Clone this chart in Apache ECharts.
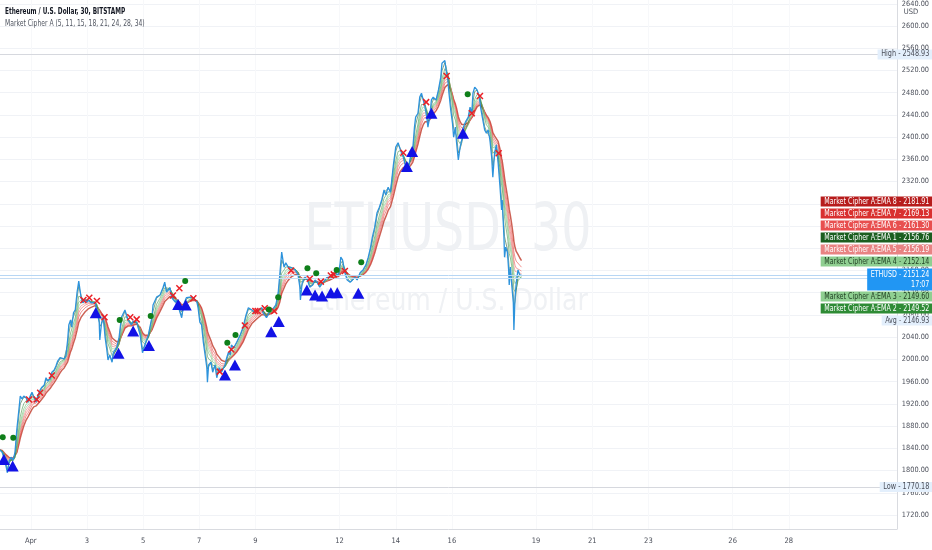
<!DOCTYPE html>
<html><head><meta charset="utf-8">
<script src="https://cdn.jsdelivr.net/npm/echarts@6/dist/echarts.min.js"></script>
<style>html,body{margin:0;padding:0;background:#fff}#c{width:932px;height:550px}</style>
</head><body><div id="c"></div>
<script>
// Hours since 2021-04-01 00:00 UTC of the sampled 30-minute closes
const barHours = [
-26.5, -24.5, -23, -21, -20, -18.5, -17, -15, -13.5, -12,
-10, -9, -7.5, -6, -4, -2.5, -0.5, 1, 2.5, 4.5,
6, 8, 9.5, 11.5, 13, 14.5, 16.5, 18, 20, 21.5,
23, 25, 26.5, 28.5, 30, 31.5, 32.5, 34, 35, 36.5,
38, 39.5, 41, 43, 44.5, 46.5, 48, 49.5, 51.5, 53,
55, 56.5, 58.5, 59, 60.5, 62, 63.5, 65, 66, 67.5,
69.5, 70.5, 73.5, 75.5, 77.5, 80.5, 83, 86, 87.5, 90.5,
93.5, 95.5, 97.5, 100.5, 103.5, 104.5, 107.5, 110.5, 113, 114.5,
116, 119, 120.5, 123.5, 124.5, 127.5, 129, 130.5, 133, 136,
139, 142, 143, 144.5, 146, 147.5, 149, 150.5, 151, 152,
154, 155.5, 157.5, 159, 161, 163, 166, 167.5, 169, 170.5,
171.5, 173.5, 176, 179, 181.5, 184, 186, 189, 191.5, 194.5,
197.5, 198.5, 201.5, 204.5, 207, 209.5, 211.5, 213, 214.5, 216.5,
218, 220, 223, 226, 228.5, 230, 230.5, 232, 234.5, 236.5,
238.5, 241, 243, 245, 247, 250, 253, 255.5, 257, 260,
263, 264.5, 265, 266.5, 268.5, 270.5, 273, 275, 277, 279,
281.5, 284, 286.5, 288.5, 290.5, 292, 294, 296, 298, 300,
302, 303.5, 305.5, 307.5, 310, 312, 314, 316, 318.5, 320.5,
322.5, 324.5, 326.5, 328, 329, 331, 332.5, 334, 335.5, 337,
338.5, 339.5, 341, 342.5, 344, 346.5, 348.5, 350.5, 351.5, 352.5,
354, 355, 356.5, 357.5, 359, 360.5, 361.5, 363, 364, 365.5,
367, 368.5, 369.5, 371.5, 374, 375.5, 377, 378, 379.5, 381.5,
383.5, 384.5, 386, 388, 389.5, 391, 392.5, 394, 395, 396.5,
398, 399.5, 401, 402.5, 403, 404.5, 405, 406, 407.5, 408.5,
409, 410, 411, 412.5, 413, 414, 415, 416.5, 418, 419.5
];
const closePrices = [
1837, 1833, 1823, 1806, 1796, 1817, 1824, 1819, 1833, 1873,
1913, 1934, 1929, 1934, 1931, 1923, 1934, 1941, 1938, 1923,
1934, 1945, 1950, 1954, 1967, 1961, 1965, 1977, 1981, 1988,
1997, 2003, 2004, 2001, 2006, 2035, 2062, 2071, 2058, 2084,
2089, 2120, 2141, 2111, 2102, 2107, 2103, 2107, 2102, 2105,
2102, 2089, 2066, 2035, 2066, 2076, 2040, 2017, 1999, 2008,
1995, 2012, 2022, 2040, 2076, 2089, 2071, 2062, 2069, 2067,
2044, 2012, 2026, 2044, 2075, 2098, 2112, 2116, 2129, 2139,
2121, 2129, 2111, 2103, 2107, 2085, 2075, 2098, 2111, 2112,
2111, 2103, 2093, 2067, 2062, 2031, 2008, 1985, 1959, 1990,
1995, 1977, 1990, 1967, 1985, 1977, 1990, 2003, 2013, 2008,
2026, 2021, 2031, 2044, 2058, 2080, 2093, 2089, 2085, 2089,
2093, 2084, 2075, 2087, 2091, 2098, 2120, 2156, 2193, 2166,
2174, 2166, 2165, 2161, 2152, 2130, 2107, 2138, 2148, 2143,
2130, 2134, 2143, 2138, 2130, 2139, 2147, 2148, 2152, 2156,
2152, 2174, 2184, 2179, 2156, 2143, 2139, 2143, 2148, 2143,
2156, 2161, 2170, 2184, 2202, 2220, 2238, 2264, 2274, 2287,
2305, 2296, 2310, 2301, 2350, 2382, 2390, 2377, 2364, 2346,
2341, 2364, 2377, 2418, 2436, 2443, 2472, 2479, 2467, 2454,
2436, 2418, 2436, 2467, 2472, 2467, 2485, 2508, 2533, 2530,
2538, 2521, 2503, 2479, 2449, 2425, 2400, 2418, 2390, 2359,
2382, 2395, 2416, 2427, 2436, 2454, 2443, 2479, 2490, 2485,
2472, 2454, 2436, 2413, 2407, 2413, 2395, 2364, 2328, 2372,
2386, 2354, 2314, 2269, 2287, 2220, 2184, 2202, 2193, 2161,
2134, 2166, 2138, 2102, 2053, 2112, 2138, 2161, 2152, 2151.24
];
// Market Cipher A EMA lengths (from the indicator title) and their last values (right-hand labels)
const emaLengths = [5, 11, 15, 18, 21, 24, 28, 34];
const emaLastValues = [2156.76, 2149.52, 2149.60, 2152.14, 2156.19, 2161.30, 2169.13, 2181.91];
// Signals: [hours since Apr 1, price]
const triangleSignals = [[-23,1820],[-15.5,1808],[55.5,2084],[75,2011],[87.5,2051],[101,2025],[126,2099],[132.5,2098],[166,1972],[174.5,1990],[205.5,2050],[212,2068],[236,2125],[243,2116],[249,2114],[256.5,2120],[262,2120],[280,2119],[321.5,2347],[326,2374],[342.5,2443],[369.5,2407]];
const crossSignals = [[-1.5,1928],[5,1928],[8,1940],[18,1971],[45,2107],[50,2111],[56.5,2105],[63,2076],[85,2076],[90.5,2072],[121.5,2115],[127,2128],[139,2110],[161.5,1978],[171.5,2018],[183,2061],[192,2087],[194,2087],[200,2092],[208,2087],[222.5,2160],[238.5,2145],[248,2140],[256.5,2151],[259,2153],[268.5,2159],[318.5,2372],[338,2463],[355.5,2510],[377,2443],[384,2474],[400,2371]];
const dotSignals = [[-24,1860],[-15,1859],[76,2071],[102.5,2078],[132,2141],[168,2030],[175,2044],[203.5,2090],[211.5,2112],[236.5,2164],[244,2155],[261.5,2161],[282.5,2175],[373.5,2477]];
const xTickDays = [1, 3, 5, 7, 9, 12, 14, 16, 19, 21, 23, 26, 28];
const yTickValues = [1720,1760,1800,1840,1880,1920,1960,2000,2040,2080,2120,2160,2200,2240,2280,2320,2360,2400,2440,2480,2520,2560,2600,2640];
const highValue = 2548.93, lowValue = 1770.18, avgValue = 2146.93, lastPrice = 2151.24;
const barCountdown = '17:07';

const FONT = "'DejaVu Sans Condensed','DejaVu Sans',sans-serif";
const emaLineColors = ['#1b5e20','#388e3c','#66bb6a','#81c784','#e57373','#ef5350','#e53935','#c0392b'];
const emaBoxColors = ['#1b5e20','#2e8b35','#8fcf91','#8fcf91','#e88383','#e84f4f','#d9302f','#b71c1c'];
const emaBoxText = ['#fff','#fff','#1f3d21','#1f3d21','#fff','#fff','#fff','#fff'];

function emaSeries(len) {
  const a = 2 / (len + 1);
  let e = closePrices[0];
  return barHours.map((h, i) => {
    if (i > 0) {
      const n = (h - barHours[i - 1]) / 0.5;
      e += (1 - Math.pow(1 - a, n)) * (closePrices[i] - e);
    }
    return [h, +e.toFixed(2)];
  });
}

const chart = echarts.init(document.getElementById('c'));
const series = [];
for (let i = emaLengths.length - 1; i >= 0; i--) {
  series.push({
    type: 'line', name: 'EMA ' + (i + 1), data: emaSeries(emaLengths[i]),
    showSymbol: false, silent: true, z: 2,
    lineStyle: { color: emaLineColors[i], width: i === 7 ? 1.5 : 1, opacity: i === 7 ? 0.8 : 0.55 }
  });
}
series.push({
  type: 'line', name: 'ETHUSD', data: barHours.map((h, i) => [h, closePrices[i]]),
  showSymbol: false, silent: true, z: 3,
  lineStyle: { color: '#2d93dc', width: 1.3 },
  markLine: {
    silent: true, symbol: 'none', label: { show: false },
    data: [
      { yAxis: highValue, lineStyle: { color: '#d6d8de', type: 'solid', width: 1 } },
      { yAxis: lowValue, lineStyle: { color: '#d6d8de', type: 'solid', width: 1 } },
      { yAxis: avgValue, lineStyle: { color: '#c5dcf3', type: 'solid', width: 1 } },
      { yAxis: lastPrice, lineStyle: { color: '#b7d6f4', type: 'solid', width: 1 } }
    ]
  }
});
series.push({
  type: 'scatter', data: triangleSignals, symbol: 'triangle', symbolSize: [12, 11], z: 5, silent: true,
  itemStyle: { color: '#1212e6', opacity: 1 }
});
series.push({
  type: 'scatter', data: crossSignals, symbol: 'path://M0,0L10,10M10,0L0,10', symbolSize: 6, z: 6, silent: true,
  itemStyle: { color: 'rgba(0,0,0,0)', borderColor: '#ea1f26', borderWidth: 1.5, opacity: 1 }
});
series.push({
  type: 'scatter', data: dotSignals, symbol: 'circle', symbolSize: 6, z: 6, silent: true,
  itemStyle: { color: '#0f7f1a', opacity: 1 }
});

chart.setOption({
  animation: false,
  backgroundColor: '#ffffff',
  grid: { left: 0, right: 35, top: 0, bottom: 21 },
  xAxis: {
    type: 'value', min: -26.33, max: 740.4,
    axisLine: { show: true, onZero: false, lineStyle: { color: '#d9dbe0' } },
    axisTick: { show: false, customValues: xTickDays.map(d => (d - 1) * 24) },
    axisLabel: {
      customValues: xTickDays.map(d => (d - 1) * 24), margin: 8,
      color: '#4a4e59', fontSize: 7.5, fontFamily: FONT,
      formatter: v => { const d = Math.round(v / 24) + 1; return d === 1 ? 'Apr' : String(d); }
    },
    splitLine: { show: true, lineStyle: { color: '#f7f8fa' } }
  },
  yAxis: {
    type: 'value', position: 'right', min: 1694.8, max: 2646.8,
    axisLine: { show: true, onZero: false, lineStyle: { color: '#d9dbe0' } },
    axisTick: { show: false, customValues: yTickValues },
    axisLabel: {
      customValues: yTickValues, margin: 5, showMinLabel: true, showMaxLabel: true,
      color: '#4a4e59', fontSize: 7.3, fontFamily: FONT,
      formatter: v => v.toFixed(2)
    },
    splitLine: { show: true, lineStyle: { color: '#f0f2f6' } }
  },
  series: series
});

// Text helper: condensed look via horizontal scaling, anchored at (x, y)
function txt(x, y, text, style, sx, z) {
  return {
    type: 'text', x: x, y: y, scaleX: sx, scaleY: 1, z: z,
    style: Object.assign({ x: 0, y: 0, text: text }, style)
  };
}

// Right-hand value labels, stacked in descending value order
const stack = emaLastValues.map((v, i) => ({
  value: v, text: 'Market Cipher A:EMA ' + (i + 1) + ' - ' + v.toFixed(2), bg: emaBoxColors[i], fg: emaBoxText[i]
}));
stack.push({ value: lastPrice, text: 'ETHUSD - ' + lastPrice.toFixed(2) + '\n' + barCountdown, bg: '#2196f3', fg: '#fff', tall: true });
stack.push({ value: avgValue, text: 'Avg - ' + avgValue.toFixed(2), bg: '#e3effc', fg: '#4a4e59' });
stack.sort((a, b) => b.value - a.value);

const graphics = [];
let stackTop = 196.5;
stack.forEach(s => {
  const h = s.tall ? 21 : 10;
  graphics.push(txt(932, stackTop, s.text, {
    align: 'right', verticalAlign: 'top', fill: s.fg, backgroundColor: s.bg,
    padding: [1, 3, 0, 4], lineHeight: s.tall ? 10.5 : 9, font: '8px ' + FONT
  }, 0.88, 100));
  stackTop += h + 2;
});
[[highValue, 'High'], [lowValue, 'Low']].forEach(([v, name]) => {
  const y = chart.convertToPixel({ yAxisIndex: 0 }, v);
  graphics.push(txt(932, y, name + ' - ' + v.toFixed(2), {
    align: 'right', verticalAlign: 'middle', fill: '#4a4e59', backgroundColor: '#e3effc',
    padding: [1, 3, 1, 4], font: '8px ' + FONT
  }, 0.9, 100));
});
graphics.push(
  { type: 'rect', z: 99, shape: { x: 898, y: 7, width: 34, height: 11 }, style: { fill: '#fff' } },
  txt(911, 12.5, 'USD', { align: 'center', verticalAlign: 'middle', fill: '#4a4e59', font: '7.5px ' + FONT }, 1, 100),
  txt(5, 12, 'Ethereum / U.S. Dollar, 30, BITSTAMP', { verticalAlign: 'middle', fill: '#131722', font: 'bold 8px ' + FONT }, 0.8, 100),
  txt(5, 24, 'Market Cipher A (' + emaLengths.join(', ') + ')', { verticalAlign: 'middle', fill: '#505560', font: '8px ' + FONT }, 0.84, 100),
  txt(448, 233, 'ETHUSD, 30', { align: 'center', verticalAlign: 'middle', fill: '#eff1f4', font: '66px ' + FONT }, 0.8, 1),
  txt(448, 302, 'Ethereum / U.S. Dollar', { align: 'center', verticalAlign: 'middle', fill: '#eff1f4', font: '31px ' + FONT }, 0.9, 1)
);
chart.setOption({ graphic: graphics });
</script>
</body></html>
